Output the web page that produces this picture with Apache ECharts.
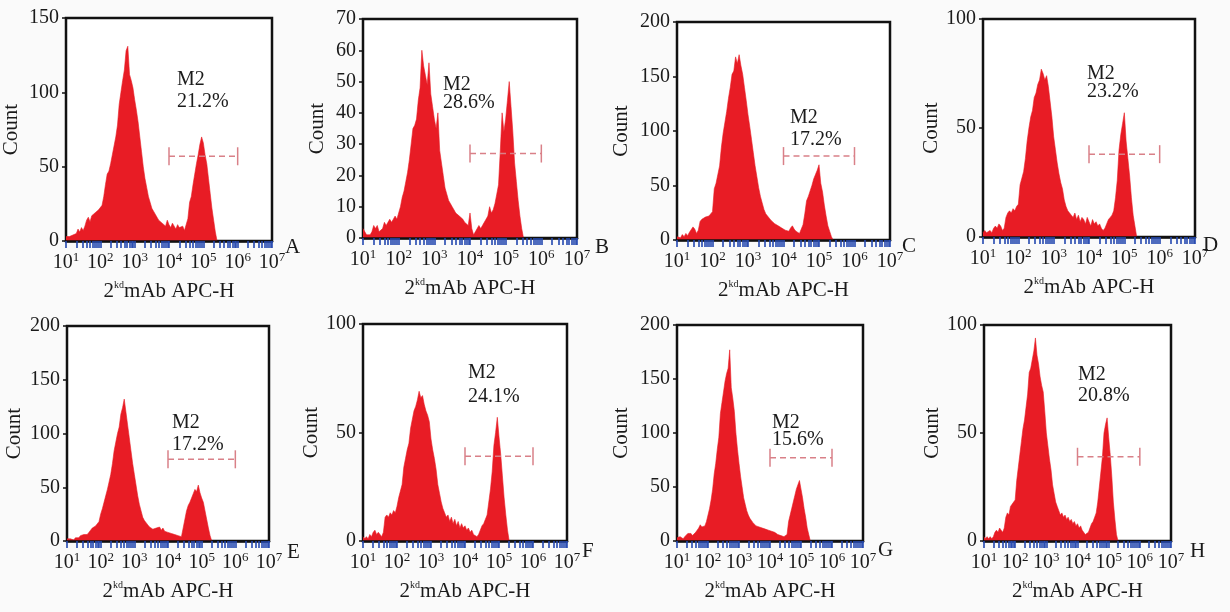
<!DOCTYPE html>
<html><head><meta charset="utf-8">
<script src="https://cdn.jsdelivr.net/npm/echarts@6/dist/echarts.min.js"></script>
<style>html,body{margin:0;padding:0;background:#fafafa}#c{width:1230px;height:612px}</style>
</head><body><div id="c"></div>
<script>
// ---------- DATA ----------
// channel positions (log10 of fluorescence intensity)
const channels = [1.00,1.05,1.10,1.15,1.20,1.25,1.30,1.35,1.40,1.45,1.50,1.55,1.60,1.65,1.70,1.75,1.80,1.85,1.90,1.95,
  2.00,2.05,2.10,2.15,2.20,2.25,2.30,2.35,2.40,2.45,2.50,2.55,2.60,2.65,2.70,2.75,2.80,2.85,2.90,2.95,
  3.00,3.05,3.10,3.15,3.20,3.25,3.30,3.35,3.40,3.45,3.50,3.55,3.60,3.65,3.70,3.75,3.80,3.85,3.90,3.95,
  4.00,4.05,4.10,4.15,4.20,4.25,4.30,4.35,4.40,4.45,4.50,4.55,4.60,4.65,4.70,4.75,4.80,4.85,4.90,4.95,
  5.00,5.05,5.10,5.15,5.20,5.25,5.30,5.35,5.40,5.45,5.50];

const countA = [3,2,3,2,4,3,5,8,6,9,7,10,14,16,13,17,16,19,18,21,
  20,24,30,38,45,47,52,58,64,70,78,92,100,108,115,128,131,112,108,103,
  95,88,80,70,60,50,42,36,30,26,22,20,18,16,14,15,12,13,10,14,
  11,9,12,10,8,11,9,8,10,7,6,15,26,30,38,45,52,58,65,70,
  66,58,52,42,32,22,14,6,0];
const countB = [3,2,1,1,1,2,4,3,4,2,2,3,5,4,5,6,5,6,7,6,
  8,10,13,15,18,21,25,30,35,36,38,44,48,60,55,52,49,56,46,42,
  38,35,40,28,24,20,16,14,12,11,10,9,8,8,7,7,6,5,5,4,
  8,3,1,2,3,4,3,4,5,6,7,10,8,9,11,14,17,28,40,34,
  38,44,50,42,34,24,18,12,7,3,0];
const countC = [3,4,2,5,3,6,4,7,8,12,10,6,9,17,19,18,21,20,22,23,
  26,47,52,60,68,85,98,108,118,130,140,152,155,168,162,170,160,152,140,128,
  115,104,92,80,68,58,48,40,34,28,24,22,20,18,17,15,16,13,14,11,
  12,9,10,8,11,13,10,8,7,6,5,14,24,36,40,45,50,56,60,64,
  69,52,44,32,22,13,8,3,0];
const countD = [2,3,2,2,3,2,4,5,4,6,5,3,4,9,11,12,11,13,12,14,
  15,24,27,30,36,44,50,55,58,64,66,70,72,77,75,72,74,69,62,55,
  46,40,34,29,25,22,17,14,12,11,10,9,11,8,10,7,9,8,6,9,
  7,5,8,6,7,5,6,4,3,4,6,8,9,10,12,18,26,40,47,52,
  57,44,36,28,18,10,5,0];
const countE = [2,1,2,2,1,3,2,3,5,4,6,5,6,8,10,12,11,14,16,18,
  25,30,36,42,48,55,62,72,84,92,100,106,118,124,132,120,108,96,84,72,
  62,52,42,34,28,22,19,17,15,13,12,11,10,12,11,13,10,12,9,10,
  8,9,7,8,6,7,5,6,4,5,20,28,33,36,40,44,48,46,52,45,
  40,36,28,20,12,5,0];
const countF = [2,1,2,1,3,2,4,5,3,4,3,2,4,11,12,11,13,12,14,13,
  16,20,23,26,34,38,42,45,52,56,60,62,65,69,66,67,63,60,58,55,
  47,42,38,33,26,22,18,15,13,11,12,9,11,8,10,7,9,6,8,6,
  7,5,6,4,5,3,3,2,3,5,7,8,10,12,18,24,32,44,50,57,
  48,40,30,20,12,5,0];
const countG = [3,2,4,3,2,4,5,7,6,7,5,6,8,10,12,15,13,12,14,18,
  24,30,38,48,62,72,85,96,118,128,138,148,155,160,177,142,132,120,100,85,
  72,60,50,40,34,28,24,21,19,17,16,14,15,13,14,12,13,11,12,10,
  11,9,10,8,7,6,7,5,6,4,5,6,18,24,30,36,42,48,52,56,
  48,40,30,22,12,6,0];
const countH = [2,1,2,1,2,1,2,4,5,4,6,5,4,6,11,13,12,16,17,18,
  19,28,34,40,46,52,56,62,68,78,80,84,88,94,86,82,76,72,69,60,
  50,44,38,33,26,22,18,16,14,12,13,11,12,10,11,9,10,8,9,7,
  8,6,7,5,4,3,3,4,6,8,9,11,13,18,25,32,39,50,54,57,
  48,40,30,18,10,3,0];

const panelLetters = ['A','B','C','D','E','F','G','H'];
const gateName = 'M2';
const gatePercents = ['21.2%','28.6%','17.2%','23.2%','17.2%','24.1%','15.6%','20.8%'];
const gateLevels = [57,27,77,38,76,39,77,39];
const gateRange = [4, 6];               // log10 bounds of the M2 gate
const yMax = [150,70,200,100,200,100,200,100];
const yStep = [50,10,50,50,50,50,50,50];
const decadeExponents = [1,2,3,4,5,6,7];
const yTitle = 'Count';
const counts = [countA,countB,countC,countD,countE,countF,countG,countH];

// ---------- LAYOUT ----------
const layout = [
  {l:66, t:18, w:206, h:223, ng:44, m2:[177,80],  pc:[177,102], let:[285,247]},
  {l:363,t:19, w:214, h:219, ng:35, m2:[443,85],  pc:[443,103], let:[595,247]},
  {l:677,t:22, w:213, h:218, ng:45, m2:[790,118], pc:[790,140], let:[902,246]},
  {l:983,t:19, w:212, h:218, ng:33, m2:[1087,74], pc:[1087,92], let:[1203,245]},
  {l:67, t:326,w:202, h:215, ng:42, m2:[172,423], pc:[172,445], let:[287,552]},
  {l:363,t:324,w:204, h:217, ng:33, m2:[468,373], pc:[468,397], let:[582,551]},
  {l:677,t:325,w:186, h:216, ng:45, m2:[772,423], pc:[772,440], let:[878,550]},
  {l:984,t:325,w:187, h:216, ng:34, m2:[1078,375],pc:[1078,396],let:[1190,551]}
];
const FONT = '"Liberation Serif", "Times New Roman", serif';
const TXT = '#1a1a1a';
const RED = '#e81c25';
const GATE = '#d98088';
const TICKBLUE = '#2448b0';

// log-decade minor tick positions (axis geometry)
const tickPos = [];
for (let d = 1; d <= 6; d++) for (let k = 1; k <= 9; k++) tickPos.push(d + Math.log10(k));
tickPos.push(7);

const grids = [], xAxes = [], yAxes = [], series = [], graphics = [];
layout.forEach((p, i) => {
  grids.push({left:p.l, top:p.t, width:p.w, height:p.h, show:true, backgroundColor:'#ffffff',
    borderColor:'#111', borderWidth:2.5});
  xAxes.push({gridIndex:i, type:'value', min:1, max:7, interval:1, z:3,
    axisLine:{show:true, lineStyle:{color:'#111', width:2.5}},
    axisTick:{show:true, customValues:tickPos, length:7, inside:false, lineStyle:{color:TICKBLUE, width:1.6}},
    splitLine:{show:false},
    axisLabel:{margin:10, showMinLabel:true, showMaxLabel:true,
      formatter: v => '{b|10}{s|' + v + '}',
      rich:{b:{fontSize:20, fontFamily:FONT, color:TXT, lineHeight:23},
            s:{fontSize:13, fontFamily:FONT, color:TXT, verticalAlign:'top'}}},
    name:'{n|2}{k|kd}{n|mAb APC-H}', nameLocation:'middle', nameGap:39,
    nameTextStyle:{rich:{n:{fontSize:21, fontFamily:FONT, color:TXT, lineHeight:23},
                         k:{fontSize:10, fontFamily:FONT, color:TXT, verticalAlign:'top'}}}
  });
  yAxes.push({gridIndex:i, type:'value', min:0, max:yMax[i], interval:yStep[i],
    axisLine:{show:false}, splitLine:{show:false},
    axisTick:{show:true, length:4, inside:false, lineStyle:{color:'#111', width:1.5}},
    axisLabel:{margin:7, fontSize:20, fontFamily:FONT, color:TXT},
    name:yTitle, nameLocation:'middle', nameRotate:90, nameGap:p.ng,
    nameTextStyle:{fontSize:21, fontFamily:FONT, color:TXT}
  });
  const c = counts[i];
  series.push({type:'line', xAxisIndex:i, yAxisIndex:i, z:2, showSymbol:false, symbol:'none',
    data: c.map((v, j) => [channels[j], v]),
    lineStyle:{color:RED, width:0.6}, areaStyle:{color:RED, opacity:1}, itemStyle:{color:RED}});
  series.push({type:'line', xAxisIndex:i, yAxisIndex:i, z:4,
    data: gateRange.map(x => [x, gateLevels[i]]),
    symbol:'rect', symbolSize:[1.5, 18], showSymbol:true, itemStyle:{color:GATE},
    lineStyle:{color:GATE, width:1.5, type:[6,4]}});
  const st = (t, x, y, size) => ({type:'text', z:10, style:{text:t, x:x, y:y, fill:TXT,
    font: size + 'px ' + FONT, verticalAlign:'middle', align:'left'}});
  graphics.push(st(gateName, p.m2[0], p.m2[1], 20));
  graphics.push(st(gatePercents[i], p.pc[0], p.pc[1], 20));
  graphics.push(st(panelLetters[i], p.let[0], p.let[1], 21));
});

const chart = echarts.init(document.getElementById('c'), null, {renderer:'canvas'});
chart.setOption({backgroundColor:'#fafafa', animation:false,
  grid:grids, xAxis:xAxes, yAxis:yAxes, series:series, graphic:graphics});
</script></body></html>
